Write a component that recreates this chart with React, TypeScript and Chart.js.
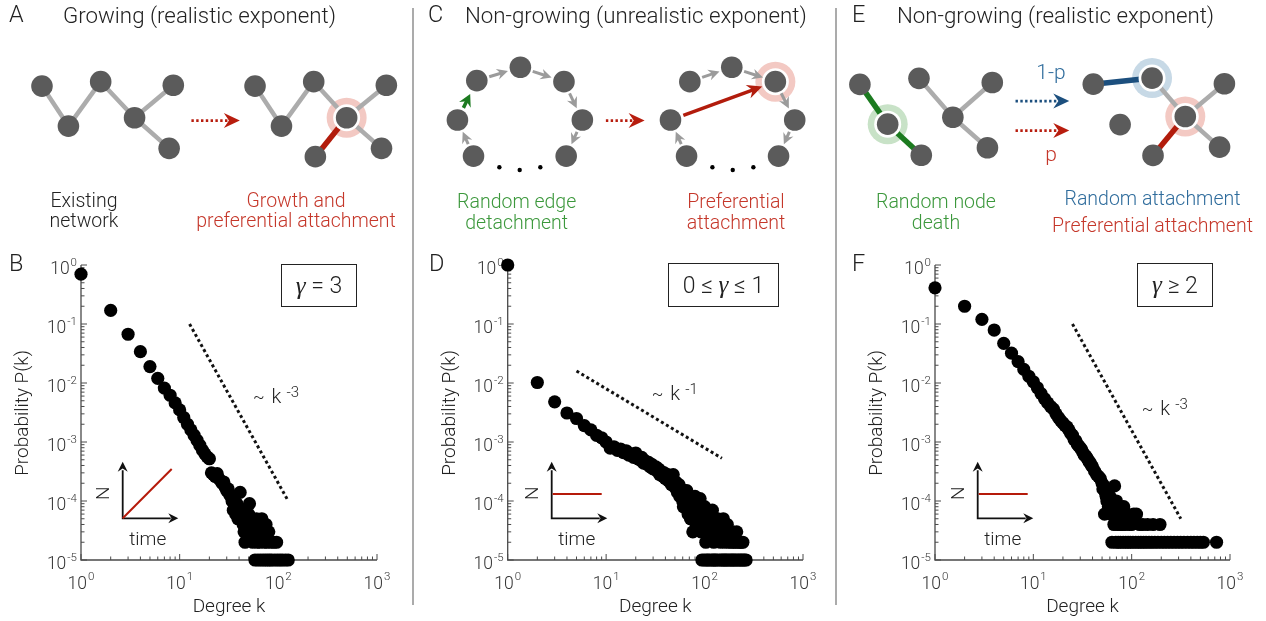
import React, { useEffect, useRef } from "react";
import { Chart, registerables } from "chart.js";
Chart.register(...registerables);

const FONT = "Roboto, 'Liberation Sans', Arial, sans-serif";
const SERIF = "'Liberation Serif', 'DejaVu Serif', serif";

// ---------------- degree distributions: [k, P(k)] ----------------
const pointsB: [number, number][] = [
  [1, 0.70], [2, 0.17], [3, 0.067], [4, 0.034], [5, 0.019], [6, 0.012], [7, 0.0082], [8, 0.0062], [9, 0.0046], [10, 0.0035],
  [11, 0.0026], [12, 0.0020], [13, 0.0016], [14, 0.0013], [15, 0.00107], [16, 0.00088], [17, 0.00073], [18, 0.00063], [19, 0.00056], [20, 0.00052],
  [21, 3.0e-4], [22, 2.8e-4], [23, 2.6e-4], [24, 2.9e-4], [25, 2.4e-4], [26, 2.2e-4], [27, 2.0e-4], [28, 2.1e-4], [29, 1.7e-4], [30, 1.5e-4],
  [31, 1.6e-4], [32, 1.3e-4], [33, 1.2e-4], [34, 1.0e-4], [35, 7e-5], [36, 8e-5], [37, 6e-5], [38, 9e-5], [39, 5e-5], [40, 6e-5],
  [41, 1.4e-4], [42, 5e-5], [43, 7e-5], [44, 4e-5], [45, 3e-5], [46, 2e-5], [47, 5e-5], [48, 4e-5], [49, 3e-5], [50, 6e-5],
  [51, 9e-5], [52, 4e-5], [53, 3e-5], [54, 5e-5], [55, 2e-5], [56, 4e-5], [57, 3e-5], [58, 1e-5], [59, 3e-5], [60, 5e-5],
  [61, 2e-5], [62, 1e-5], [63, 4e-5], [64, 3e-5], [65, 2e-5], [66, 1e-5], [67, 3e-5], [68, 5e-5], [70, 1e-5], [71, 3e-5],
  [72, 2e-5], [74, 1e-5], [75, 4e-5], [77, 2e-5], [78, 1e-5], [80, 3e-5], [82, 1e-5], [84, 2e-5], [86, 1e-5], [90, 2e-5],
  [92, 1e-5], [96, 2e-5], [98, 1e-5], [104, 1e-5], [110, 1e-5], [118, 1e-5], [126, 1e-5],
];

const pointsD: [number, number][] = [
  [1, 1.0], [2, 0.0102], [3, 0.0048], [4, 0.0031], [5, 0.0025], [6, 0.0019], [7, 0.0016], [8, 0.0013], [9, 0.00118], [10, 0.0010],
  [11, 7.9e-4], [12, 8.3e-4], [13, 7.2e-4], [14, 7.6e-4], [15, 6.6e-4], [16, 7.1e-4], [17, 6.0e-4], [18, 6.3e-4], [19, 5.5e-4], [20, 6.5e-4],
  [21, 5.2e-4], [22, 5.0e-4], [23, 5.5e-4], [24, 4.4e-4], [25, 4.8e-4], [26, 4.2e-4], [27, 4.5e-4], [28, 3.8e-4], [29, 4.2e-4], [30, 3.5e-4],
  [32, 3.8e-4], [33, 3.2e-4], [34, 3.5e-4], [35, 2.8e-4], [36, 3.2e-4], [38, 2.6e-4], [39, 3.0e-4], [40, 2.4e-4], [42, 2.8e-4], [43, 2.2e-4],
  [45, 2.5e-4], [46, 1.9e-4], [48, 2.8e-4], [50, 1.7e-4], [51, 2.1e-4], [53, 1.4e-4], [55, 1.9e-4], [56, 1.2e-4], [58, 1.6e-4], [60, 1.0e-4],
  [61, 8e-5], [63, 1.4e-4], [65, 9e-5], [66, 1.5e-4], [68, 6e-5], [70, 1.0e-4], [72, 5e-5], [74, 1.0e-4], [76, 3e-5], [78, 7e-5],
  [80, 1.2e-4], [82, 4e-5], [84, 8e-5], [86, 1.0e-4], [88, 5e-5], [90, 1.1e-4], [92, 3e-5], [95, 6e-5], [97, 4e-5], [100, 8e-5],
  [103, 2e-5], [106, 5e-5], [110, 6e-5], [113, 3e-5], [116, 4e-5], [120, 7e-5], [124, 2e-5], [128, 4e-5], [132, 3e-5], [136, 5e-5],
  [140, 4e-5], [145, 2e-5], [150, 3e-5], [155, 5e-5], [160, 2e-5], [165, 3e-5], [170, 4e-5], [175, 2e-5], [180, 3e-5], [186, 2e-5],
  [192, 3e-5], [198, 2e-5], [205, 2e-5], [212, 3e-5], [220, 2e-5], [228, 2e-5], [236, 2e-5], [245, 2e-5],
  [94, 1e-5], [99, 1e-5], [104, 1e-5], [108, 1e-5], [112, 1e-5], [118, 1e-5], [122, 1e-5], [126, 1e-5], [130, 1e-5], [135, 1e-5],
  [142, 1e-5], [148, 1e-5], [153, 1e-5], [158, 1e-5], [163, 1e-5], [168, 1e-5], [174, 1e-5], [181, 1e-5], [187, 1e-5], [193, 1e-5],
  [199, 1e-5], [206, 1e-5], [214, 1e-5], [222, 1e-5], [230, 1e-5], [238, 1e-5], [246, 1e-5], [255, 1e-5], [264, 1e-5],
];

const pointsF: [number, number][] = [
  [1, 0.41], [2, 0.20], [3, 0.12], [4, 0.079], [5, 0.047], [6, 0.032], [7, 0.023], [8, 0.017], [9, 0.013], [10, 0.0105],
  [11, 0.0083], [12, 0.0066], [13, 0.0054], [14, 0.0046], [15, 0.0040], [16, 0.0036], [17, 0.0030], [18, 0.0026], [19, 0.0023], [20, 0.0021],
  [21, 0.0019], [22, 0.0018], [23, 0.0016], [24, 0.0014], [25, 0.0013], [26, 0.0011], [27, 0.00105], [28, 9.2e-4], [29, 8.5e-4], [30, 8.0e-4],
  [31, 7.4e-4], [32, 6.6e-4], [33, 6.0e-4], [34, 5.8e-4], [35, 5.4e-4], [36, 5.0e-4], [37, 4.6e-4], [38, 4.4e-4], [39, 4.0e-4], [40, 3.8e-4],
  [42, 3.2e-4], [44, 2.8e-4], [46, 2.6e-4], [48, 2.4e-4], [50, 2.0e-4], [51, 1.6e-4], [52, 1.8e-4], [53, 6e-5], [54, 1.4e-4], [55, 1.2e-4],
  [56, 1.0e-4], [57, 1.4e-4], [58, 8e-5], [60, 1.2e-4], [61, 6e-5], [62, 1.0e-4], [64, 8e-5], [66, 4e-5], [67, 1.8e-4], [68, 6e-5],
  [70, 1.0e-4], [72, 4e-5], [74, 8e-5], [76, 4e-5], [78, 6e-5], [80, 4e-5], [83, 8e-5], [86, 4e-5], [90, 6e-5], [95, 4e-5],
  [100, 4e-5], [105, 6e-5], [112, 6e-5], [120, 4e-5], [130, 4e-5], [145, 4e-5], [165, 4e-5], [194, 4e-5],
  [63, 2e-5], [69, 2e-5], [73, 2e-5], [77, 2e-5], [82, 2e-5], [87, 2e-5], [92, 2e-5], [97, 2e-5], [103, 2e-5], [110, 2e-5],
  [117, 2e-5], [124, 2e-5], [132, 2e-5], [140, 2e-5], [150, 2e-5], [160, 2e-5], [172, 2e-5], [185, 2e-5], [200, 2e-5], [215, 2e-5],
  [232, 2e-5], [250, 2e-5], [270, 2e-5], [292, 2e-5], [315, 2e-5], [340, 2e-5], [370, 2e-5], [400, 2e-5], [430, 2e-5], [465, 2e-5],
  [500, 2e-5], [536, 2e-5], [730, 2e-5],
];

// guide power-law lines [k, P]
const guideB: [number, number][] = [[12.6, 0.1], [126, 1e-4]];
const guideD: [number, number][] = [[5, 0.016], [150, 5.3e-4]];
const guideF: [number, number][] = [[25, 0.1], [316, 5e-5]];

const xDecades = [0, 1, 2, 3];
const yDecades = [-5, -4, -3, -2, -1, 0];

// ---------------- schematic networks (page pixel space) ----------------
const nodeIds = [
  "a1", "a2", "a3", "a4", "a5", "a6",
  "b1", "b2", "b3", "b4", "b5", "b6", "b7",
  "c1", "c2", "c3", "c4", "c5", "c6", "c7",
  "d1", "d2", "d3", "d4", "d5", "d6", "d7",
  "e1", "e2", "e3", "e4", "e5", "e6", "e7",
  "f1", "f2", "f3", "f4", "f5", "f6", "f7",
];
const nodeX = [
  22.7, 50, 83.3, 118.3, 158.3, 154,
  242.7, 270, 303.3, 337.3, 378.3, 373.3, 305,
  471.7, 516.7, 561.7, 580.7, 564, 468.3, 451.7,
  691.7, 735, 780, 800, 783.3, 688.3, 671.7,
  867.3, 896, 930.7, 928.3, 963.3, 1004, 999,
  1108.3, 1169, 1136, 1203.3, 1243.7, 1238.7, 1170,
];
const nodeY = [
  79.3, 127.3, 74, 117.3, 78.3, 154,
  79.3, 127.3, 74, 117.3, 78.3, 154, 164,
  72.7, 56.7, 74, 120, 163.3, 163.3, 120,
  74, 56.7, 74, 120, 163.3, 163.3, 120,
  77.3, 125, 162.3, 70, 116.7, 75, 153.3,
  77, 69.7, 125.5, 115.8, 76.5, 152.5, 162.5,
];
const edgesGray: [string, string][] = [
  ["a1", "a2"], ["a2", "a3"], ["a3", "a4"], ["a4", "a5"], ["a4", "a6"],
  ["b1", "b2"], ["b2", "b3"], ["b3", "b4"], ["b4", "b5"], ["b4", "b6"],
  ["e4", "e5"], ["e5", "e6"], ["e5", "e7"],
  ["f2", "f4"], ["f4", "f5"], ["f4", "f6"],
];
const edgesRed: [string, string][] = [["b7", "b4"], ["f7", "f4"]];
const edgesGreen: [string, string][] = [["e1", "e2"], ["e2", "e3"]];
const edgesBlue: [string, string][] = [["f1", "f2"]];
const haloNodes: [string, string][] = [["b4", "#f3c9c3"], ["d3", "#f3c9c3"], ["e2", "#c8e2c7"], ["f2", "#c7d9e6"], ["f4", "#f3c9c3"]];
// directed edges: from, to, kind
const directedEdges: [string, string, string][] = [
  ["c1", "c2", "gray"], ["c2", "c3", "gray"], ["c3", "c4", "gray"], ["c4", "c5", "gray"], ["c6", "c7", "gray"], ["c7", "c1", "green"],
  ["d1", "d2", "gray"], ["d2", "d3", "gray"], ["d3", "d4", "gray"], ["d4", "d5", "gray"], ["d6", "d7", "gray"], ["d7", "d3", "red"],
];
// transition arrows: x start, x tip, y, colour
const transitions: [number, number, number, string][] = [
  [177, 227, 120.7, "#b81d0e"],
  [605, 645, 120.7, "#b81d0e"],
  [1028, 1083.5, 97.3, "#1c4f7e"],
  [1028, 1083.5, 132.7, "#b81d0e"],
];
const ellipsisX = [495, 516, 537.3, 715, 736, 757.3];
const ellipsisY = [176.7, 180, 176.7, 176.7, 180, 176.7];

const NODE = "#5b5b5b";
const RED = "#b21c0c";
const RED_TXT = "#c5372a";
const GREEN = "#1c7b20";
const GREEN_TXT = "#3c983c";
const BLUE = "#1c4f7e";
const BLUE_TXT = "#2f6c9c";

function nodePos(id: string) {
  const i = nodeIds.indexOf(id);
  return { x: nodeX[i], y: nodeY[i] };
}

function drawHead(ctx: CanvasRenderingContext2D, tx: number, ty: number, ux: number, uy: number, L: number, hw: number, color: string) {
  const nx = -uy, ny = ux;
  const bx = tx - ux * L, by = ty - uy * L;
  ctx.beginPath();
  ctx.moveTo(tx, ty);
  ctx.lineTo(bx + nx * hw, by + ny * hw);
  ctx.lineTo(tx - ux * L * 0.68, ty - uy * L * 0.68);
  ctx.lineTo(bx - nx * hw, by - ny * hw);
  ctx.closePath();
  ctx.fillStyle = color;
  ctx.fill();
}

function TopDiagram() {
  const ref = useRef<HTMLCanvasElement>(null);
  useEffect(() => {
    const edgeSet = (list: [string, string][], color: string, width: number, order: number) =>
      list.map(([a, b]) => ({
        type: "line" as const,
        data: [nodePos(a), nodePos(b)],
        borderColor: color,
        borderWidth: width,
        borderCapStyle: "butt" as const,
        pointRadius: 0,
        showLine: true,
        clip: false as const,
        order,
      }));
    const arrowPlugin = {
      id: "arrows",
      afterDatasetsDraw(chart: any) {
        const { ctx } = chart;
        const sx = chart.scales.x, sy = chart.scales.y;
        ctx.save();
        directedEdges.forEach(([a, b, kind]) => {
          const p = nodePos(a), q = nodePos(b);
          const x1 = sx.getPixelForValue(p.x), y1 = sy.getPixelForValue(p.y);
          const x2 = sx.getPixelForValue(q.x), y2 = sy.getPixelForValue(q.y);
          const d = Math.hypot(x2 - x1, y2 - y1);
          const ux = (x2 - x1) / d, uy = (y2 - y1) / d;
          const cfg = kind === "gray" ? { c: "#9b9b9b", w: 3, L: 11, hw: 5.5, g0: 13, g1: 13 }
            : kind === "green" ? { c: GREEN, w: 3.5, L: 12, hw: 6.5, g0: 13.5, g1: 15 }
            : { c: RED, w: 3.5, L: 15, hw: 7, g0: 13.7, g1: 14 };
          const sxp = x1 + ux * cfg.g0, syp = y1 + uy * cfg.g0;
          const tx = x2 - ux * cfg.g1, ty = y2 - uy * cfg.g1;
          ctx.strokeStyle = cfg.c;
          ctx.lineWidth = cfg.w;
          ctx.lineCap = "butt";
          ctx.beginPath();
          ctx.moveTo(sxp, syp);
          ctx.lineTo(tx - ux * cfg.L * 0.6, ty - uy * cfg.L * 0.6);
          ctx.stroke();
          drawHead(ctx, tx, ty, ux, uy, cfg.L, cfg.hw, cfg.c);
        });
        transitions.forEach(([xa, xb, yv, color]) => {
          const x1 = sx.getPixelForValue(xa), x2 = sx.getPixelForValue(xb), y = sy.getPixelForValue(yv);
          ctx.strokeStyle = color;
          ctx.lineWidth = 2.6;
          ctx.setLineDash([2.4, 2.4]);
          ctx.beginPath();
          ctx.moveTo(x1, y);
          ctx.lineTo(x2 - 11, y);
          ctx.stroke();
          ctx.setLineDash([]);
          drawHead(ctx, x2, y, 1, 0, 16, 7.5, color);
        });
        ctx.restore();
      },
    };
    const chart = new Chart(ref.current!, {
      type: "scatter",
      data: {
        datasets: [
          {
            data: haloNodes.map(([id]) => nodePos(id)),
            pointRadius: 20,
            pointBackgroundColor: haloNodes.map(([, c]) => c),
            pointBorderWidth: 0,
            clip: false,
            order: 6,
          } as any,
          ...edgeSet(edgesGray, "#acacac", 4.5, 5),
          ...edgeSet(edgesRed, RED, 5.5, 5),
          ...edgeSet(edgesGreen, GREEN, 5.5, 5),
          ...edgeSet(edgesBlue, BLUE, 5.5, 5),
          {
            data: haloNodes.map(([id]) => nodePos(id)),
            pointRadius: 13.5,
            pointBackgroundColor: "#ffffff",
            pointBorderWidth: 0,
            clip: false,
            order: 4,
          },
          {
            data: nodeIds.map((id) => nodePos(id)),
            pointRadius: 10.8,
            pointBackgroundColor: NODE,
            pointBorderWidth: 0,
            clip: false,
            order: 3,
          },
          {
            data: ellipsisX.map((x, i) => ({ x, y: ellipsisY[i] })),
            pointRadius: 2.2,
            pointBackgroundColor: "#000",
            pointBorderWidth: 0,
            clip: false,
            order: 2,
          },
        ],
      },
      options: {
        responsive: false,
        animation: false,
        devicePixelRatio: 1,
        events: [],
        layout: { padding: 0 },
        scales: {
          x: { type: "linear", min: 0, max: 1266, display: false },
          y: { type: "linear", min: 0, max: 240, reverse: true, display: false },
        },
        plugins: { legend: { display: false }, tooltip: { enabled: false } },
      },
      plugins: [arrowPlugin],
    });
    return () => chart.destroy();
  }, []);
  return <canvas ref={ref} width={1266} height={240} style={{ position: "absolute", left: 0, top: 0, width: 1266, height: 240 }} />;
}

type PlotSpec = {
  id: string;
  left: number;
  width: number;
  plotLeft: number;
  plotRight: number;
  points: [number, number][];
  guide: [number, number][];
  inset: "diag" | "flat";
  insetDx: number;
  note: { x: number; y: number; sup: string };
};

const PLOT_TOP = 265;
const PLOT_BOTTOM = 560;
const CANVAS_TOP = 240;
const CANVAS_H = 381;

const PLOTS: PlotSpec[] = [
  { id: "B", left: 0, width: 411, plotLeft: 81, plotRight: 377, points: pointsB, guide: guideB, inset: "diag", insetDx: 41.7, note: { x: 253, y: 403.3, sup: "-3" } },
  { id: "D", left: 415, width: 419, plotLeft: 507.7, plotRight: 803, points: pointsD, guide: guideD, inset: "flat", insetDx: 44, note: { x: 651.7, y: 400, sup: "-1" } },
  { id: "F", left: 838, width: 428, plotLeft: 935, plotRight: 1230, points: pointsF, guide: guideF, inset: "flat", insetDx: 42.7, note: { x: 1141.7, y: 415, sup: "-3" } },
];

function drawPow(ctx: CanvasRenderingContext2D, e: number, px: number, py: number, mode: "x" | "y") {
  const base = "10";
  const sup = e < 0 ? "-" + -e : String(e);
  ctx.font = `300 17.5px ${FONT}`;
  const w1 = ctx.measureText(base).width;
  ctx.font = `300 11.5px ${FONT}`;
  const w2 = ctx.measureText(sup).width;
  const total = w1 + 1 + w2;
  let x0: number, b1: number, b2: number;
  if (mode === "x") {
    x0 = px - total / 2;
    b1 = py + 28.5;
    b2 = py + 20;
  } else {
    x0 = px - 4 - total;
    b1 = py + 8.5;
    b2 = py + 1.3;
  }
  ctx.fillStyle = "#333";
  ctx.textAlign = "left";
  ctx.textBaseline = "alphabetic";
  ctx.font = `300 17.5px ${FONT}`;
  ctx.fillText(base, x0, b1);
  ctx.font = `300 11.5px ${FONT}`;
  ctx.fillText(sup, x0 + w1 + 1, b2);
}

function LogPlot({ spec }: { spec: PlotSpec }) {
  const ref = useRef<HTMLCanvasElement>(null);
  useEffect(() => {
    const axesPlugin = {
      id: "axes" + spec.id,
      beforeDatasetsDraw(chart: any) {
        const { ctx, chartArea } = chart;
        const { left, right, top, bottom } = chartArea;
        const sx = chart.scales.x, sy = chart.scales.y;
        ctx.save();
        ctx.strokeStyle = "#4a4a4a";
        ctx.lineWidth = 1.3;
        ctx.beginPath();
        ctx.moveTo(left, top);
        ctx.lineTo(left, bottom);
        ctx.lineTo(right, bottom);
        ctx.stroke();
        ctx.lineWidth = 1;
        ctx.beginPath();
        xDecades.forEach((e) => {
          for (let m = 1; m <= 9; m++) {
            const v = m * Math.pow(10, e);
            if (v > 1000.001) break;
            const p = sx.getPixelForValue(v);
            ctx.moveTo(p, bottom);
            ctx.lineTo(p, bottom - (m === 1 ? 6 : 3.5));
          }
        });
        yDecades.forEach((e) => {
          for (let m = 1; m <= 9; m++) {
            const v = m * Math.pow(10, e);
            if (v > 1.0001) break;
            const p = sy.getPixelForValue(v);
            ctx.moveTo(left, p);
            ctx.lineTo(left + (m === 1 ? 6 : 3.5), p);
          }
        });
        ctx.stroke();
        xDecades.forEach((e) => drawPow(ctx, e, sx.getPixelForValue(Math.pow(10, e)), bottom, "x"));
        yDecades.forEach((e) => drawPow(ctx, e, left, sy.getPixelForValue(Math.pow(10, e)), "y"));

        // inset: N vs time
        const ox = left + spec.insetDx, oy = bottom - 41.7;
        ctx.strokeStyle = "#111";
        ctx.lineWidth = 1.8;
        ctx.beginPath();
        ctx.moveTo(ox, oy - 48);
        ctx.lineTo(ox, oy);
        ctx.lineTo(ox + 48, oy);
        ctx.stroke();
        drawHead(ctx, ox, oy - 56.6, 0, -1, 10, 5, "#111");
        drawHead(ctx, ox + 55.6, oy, 1, 0, 10, 5, "#111");
        ctx.strokeStyle = "#b51a0a";
        ctx.lineWidth = 2;
        ctx.beginPath();
        if (spec.inset === "diag") {
          ctx.moveTo(ox, oy);
          ctx.lineTo(ox + 49, oy - 49.3);
        } else {
          ctx.moveTo(ox + 1, oy - 24.3);
          ctx.lineTo(ox + 50, oy - 24.3);
        }
        ctx.stroke();
        ctx.fillStyle = "#222";
        ctx.font = `300 19px ${FONT}`;
        ctx.textAlign = "center";
        ctx.fillText("time", ox + 25, oy + 27);
        ctx.save();
        ctx.translate(ox - 13.5, oy - 25);
        ctx.rotate(-Math.PI / 2);
        ctx.fillText("N", 0, 0);
        ctx.restore();

        // slope note
        const nx = spec.note.x - spec.left, ny = spec.note.y - CANVAS_TOP;
        ctx.textAlign = "left";
        ctx.fillStyle = "#222";
        ctx.font = `300 17px ${FONT}`;
        ctx.fillText("~", nx, ny - 1);
        ctx.font = `300 20px ${FONT}`;
        ctx.fillText("k", nx + 18.5, ny);
        ctx.font = `300 15px ${FONT}`;
        ctx.fillText(spec.note.sup, nx + 33.5, ny - 6.5);
        ctx.restore();
      },
    };
    const chart = new Chart(ref.current!, {
      type: "scatter",
      data: {
        datasets: [
          {
            type: "line",
            data: spec.guide.map(([x, y]) => ({ x, y })),
            borderColor: "#111",
            borderWidth: 3,
            borderDash: [3, 2.8],
            borderCapStyle: "butt",
            pointRadius: 0,
            fill: false,
            clip: false,
            order: 2,
          } as any,
          {
            data: spec.points.map(([x, y]) => ({ x, y })),
            pointRadius: 6.6,
            pointBackgroundColor: "#000",
            pointBorderWidth: 0,
            clip: false,
            order: 1,
          },
        ],
      },
      options: {
        responsive: false,
        animation: false,
        devicePixelRatio: 1,
        events: [],
        layout: {
          padding: {
            left: spec.plotLeft - spec.left,
            right: spec.left + spec.width - spec.plotRight,
            top: PLOT_TOP - CANVAS_TOP,
            bottom: CANVAS_TOP + CANVAS_H - PLOT_BOTTOM,
          },
        },
        scales: {
          x: { type: "logarithmic", min: 1, max: 1000, display: false },
          y: { type: "logarithmic", min: 1e-5, max: 1, display: false },
        },
        plugins: { legend: { display: false }, tooltip: { enabled: false } },
      },
      plugins: [axesPlugin],
    });
    return () => chart.destroy();
  }, [spec]);
  return (
    <canvas
      ref={ref}
      width={spec.width}
      height={CANVAS_H}
      style={{ position: "absolute", left: spec.left, top: CANVAS_TOP, width: spec.width, height: CANVAS_H }}
    />
  );
}

function T(props: { x: number; y: number; size: number; color?: string; align?: "left" | "center"; children: React.ReactNode }) {
  const { x, y, size, color = "#222", align = "left", children } = props;
  const top = y - 0.845 * size;
  const style: React.CSSProperties = {
    position: "absolute",
    top,
    fontSize: size,
    lineHeight: `${size}px`,
    color,
    whiteSpace: "nowrap",
    fontWeight: 300,
    fontFamily: FONT,
  };
  if (align === "center") {
    style.left = x - 200;
    style.width = 400;
    style.textAlign = "center";
  } else {
    style.left = x;
  }
  return <div style={style}>{children}</div>;
}

function Box(props: { left: number; top: number; w: number; h: number; children: React.ReactNode }) {
  return (
    <div
      style={{
        position: "absolute",
        left: props.left,
        top: props.top,
        width: props.w,
        height: props.h,
        boxSizing: "border-box",
        border: "1.5px solid #222",
        display: "flex",
        alignItems: "center",
        justifyContent: "center",
        fontSize: 23,
        fontWeight: 300,
        color: "#222",
        fontFamily: FONT,
        whiteSpace: "nowrap",
      }}
    >
      {props.children}
    </div>
  );
}

const G = () => <span style={{ fontFamily: SERIF, fontStyle: "italic", fontSize: 25 }}>γ</span>;

const LBL = 19.5;

export default function App() {
  useEffect(() => {
    document.body.style.margin = "0";
  }, []);
  return (
    <div style={{ position: "absolute", left: 0, top: 0, width: 1266, height: 621, background: "#fff", overflow: "hidden", fontFamily: FONT }}>
      <TopDiagram />
      {PLOTS.map((p) => (
        <LogPlot key={p.id} spec={p} />
      ))}

      {/* separators */}
      <div style={{ position: "absolute", left: 412, top: 8, width: 1.5, height: 597, background: "#ababab" }} />
      <div style={{ position: "absolute", left: 835, top: 8, width: 1.5, height: 597, background: "#ababab" }} />

      {/* panel letters & titles */}
      <T x={9} y={23} size={23.5}>A</T>
      <T x={63} y={23} size={22.3}>Growing (realistic exponent)</T>
      <T x={428} y={23} size={23.5}>C</T>
      <T x={465} y={23} size={22.3}>Non-growing (unrealistic exponent)</T>
      <T x={852} y={23} size={23.5}>E</T>
      <T x={897} y={23} size={22.3}>Non-growing (realistic exponent)</T>
      <T x={9} y={272} size={23.5}>B</T>
      <T x={429} y={272} size={23.5}>D</T>
      <T x={852} y={272} size={23.5}>F</T>

      {/* schematic labels */}
      <T x={84} y={207} size={LBL} align="center">Existing</T>
      <T x={84} y={227} size={LBL} align="center">network</T>
      <T x={296} y={207} size={LBL} align="center" color={RED_TXT}>Growth and</T>
      <T x={296} y={227} size={LBL} align="center" color={RED_TXT}>preferential attachment</T>
      <T x={516.7} y={208} size={LBL} align="center" color={GREEN_TXT}>Random edge</T>
      <T x={516.7} y={229} size={LBL} align="center" color={GREEN_TXT}>detachment</T>
      <T x={736} y={208} size={LBL} align="center" color={RED_TXT}>Preferential</T>
      <T x={736} y={229} size={LBL} align="center" color={RED_TXT}>attachment</T>
      <T x={936} y={208} size={LBL} align="center" color={GREEN_TXT}>Random node</T>
      <T x={936} y={229} size={LBL} align="center" color={GREEN_TXT}>death</T>
      <T x={1152.5} y={205} size={LBL} align="center" color={BLUE_TXT}>Random attachment</T>
      <T x={1152.5} y={232} size={LBL} align="center" color={RED_TXT}>Preferential attachment</T>
      <T x={1051} y={80} size={21} align="center" color={BLUE_TXT}>1-p</T>
      <T x={1051} y={162} size={21} align="center" color={RED_TXT}>p</T>

      {/* exponent boxes */}
      <Box left={281} top={264} w={76} h={43}>
        <G />&nbsp;=&nbsp;3
      </Box>
      <Box left={668} top={263} w={111} h={44}>
        0&nbsp;≤&nbsp;<G />&nbsp;≤&nbsp;1
      </Box>
      <Box left={1137} top={263} w={76} h={44}>
        <G />&nbsp;≥&nbsp;2
      </Box>

      {/* axis titles */}
      {PLOTS.map((p) => (
        <React.Fragment key={"t" + p.id}>
          <T x={(p.plotLeft + p.plotRight) / 2} y={611.7} size={19} align="center">Degree k</T>
          <div
            style={{
              position: "absolute",
              left: p.plotLeft - 59 - 100,
              top: (PLOT_TOP + PLOT_BOTTOM) / 2 - 10,
              width: 200,
              height: 20,
              lineHeight: "20px",
              textAlign: "center",
              fontSize: 19,
              fontWeight: 300,
              color: "#222",
              transform: "rotate(-90deg)",
              whiteSpace: "nowrap",
            }}
          >
            Probability P(k)
          </div>
        </React.Fragment>
      ))}
    </div>
  );
}
